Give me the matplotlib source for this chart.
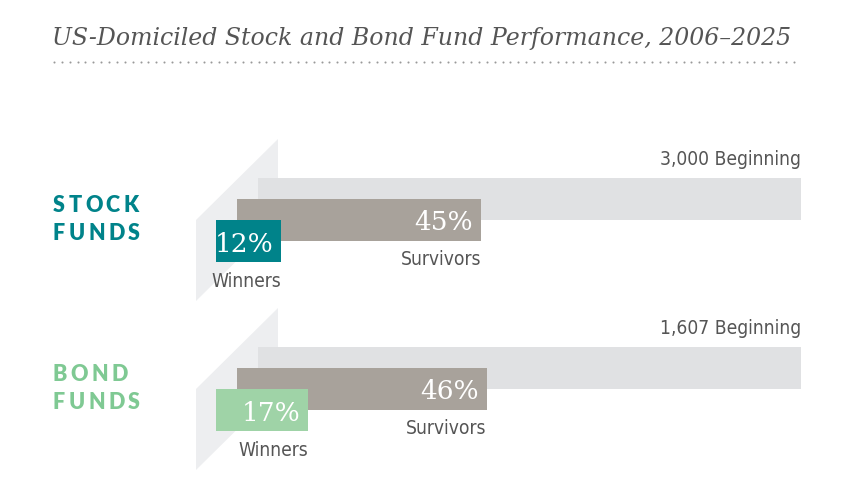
import matplotlib
matplotlib.use('Agg')
import matplotlib.pyplot as plt
from matplotlib.patches import Polygon

# data
groups = ['STOCK\nFUNDS', 'BOND\nFUNDS']
beginning = ['3,000', '1,607']
survivors_pct = [45, 46]
winners_pct = [12, 17]
group_colors = ['#00838a', '#9fd3a7']
label_colors = ['#00838a', '#7fc993']

title = 'US-Domiciled Stock and Bond Fund Performance, 2006\u20132025'

# layout in pixels
W, H = 843, 502
full_left, full_right = 258, 801
full_w = full_right - full_left
step = 21
bar_h = 42
group_top = [179, 348]

gray = '#e0e1e3'
para = '#edeef0'
taupe = '#a8a29b'
txt = '#555555'
serif = ['DejaVu Serif']
lab = dict(fontsize=13.8, family=['DejaVu Sans'], fontstretch='condensed', color=txt)

fig = plt.figure(figsize=(W / 100, H / 100), dpi=100)
ax = fig.add_axes([0, 0, 1, 1])
ax.set_xlim(0, W)
ax.set_ylim(H, 0)
ax.axis('off')

# title and dotted rule
ax.text(52, 45, title, fontsize=17, style='italic', family=serif,
        color=txt, va='baseline', ha='left')
dots_x = [54 + 7.87 * i for i in range(95)]
ax.scatter(dots_x, [63] * len(dots_x), s=2.2, color='#999999', linewidths=0)

fig.canvas.draw()
renderer = fig.canvas.get_renderer()


def spaced_text(x, y, s, color, tracking=3.4):
    for ch in s:
        t = ax.text(x, y, ch, fontsize=15.5, fontweight='heavy', family=['Lato', 'DejaVu Sans'],
                    color=color, va='baseline', ha='left')
        bb = t.get_window_extent(renderer)
        x += bb.width + tracking


for i, top in enumerate(group_top):
    # skewed backdrop
    ax.add_patch(Polygon([(196, top + 42), (278, top - 39), (278, top + 42), (196, top + 123)],
                         closed=True, color=para, lw=0, zorder=1))

    # beginning bar (100%)
    y0 = top + bar_h / 2
    ax.barh(y0, full_w, left=full_left, height=bar_h, color=gray, zorder=2)
    ax.text(full_right, top - 14, beginning[i] + ' Beginning', ha='right', va='baseline', **lab)

    # survivors
    y1 = y0 + step
    left1 = full_left - step
    w1 = full_w * survivors_pct[i] / 100
    ax.barh(y1, w1, left=left1, height=bar_h, color=taupe, zorder=3)
    ax.text(left1 + w1 - 8, top + step + 30, f'{survivors_pct[i]}%', fontsize=19, family=serif,
            color='white', ha='right', va='baseline', zorder=5)
    ax.text(left1 + w1, top + 86, 'Survivors', ha='right', va='baseline', **lab)

    # winners
    y2 = y1 + step
    left2 = left1 - step
    w2 = full_w * winners_pct[i] / 100
    ax.barh(y2, w2, left=left2, height=bar_h, color=group_colors[i], zorder=4)
    ax.text(left2 + w2 - 8, top + 2 * step + 31, f'{winners_pct[i]}%', fontsize=19, family=serif,
            color='white', ha='right', va='baseline', zorder=5)
    ax.text(left2 + w2, top + 108, 'Winners', ha='right', va='baseline', **lab)

    # group label
    line1, line2 = groups[i].split('\n')
    spaced_text(53, top + 33, line1, label_colors[i])
    spaced_text(53, top + 61, line2, label_colors[i])

fig.savefig('out.png', dpi=100)
